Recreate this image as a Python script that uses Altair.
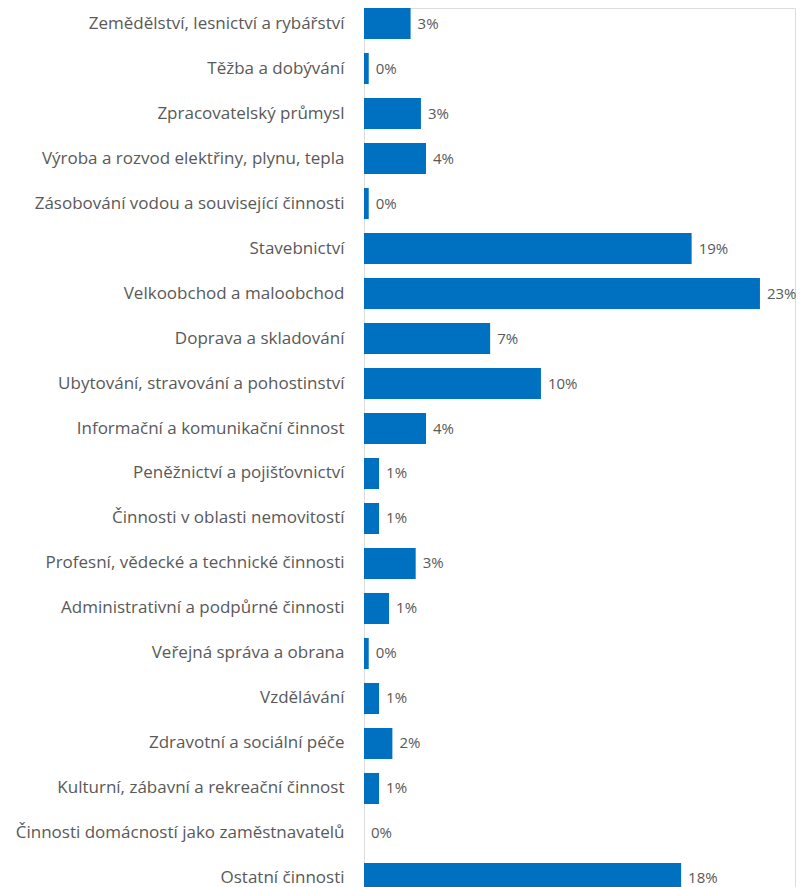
import altair as alt
import pandas as pd

categories = [
    "Zemědělství, lesnictví a rybářství",
    "Těžba a dobývání",
    "Zpracovatelský průmysl",
    "Výroba a rozvod elektřiny, plynu, tepla",
    "Zásobování vodou a související činnosti",
    "Stavebnictví",
    "Velkoobchod a maloobchod",
    "Doprava a skladování",
    "Ubytování, stravování a pohostinství",
    "Informační a komunikační činnost",
    "Peněžnictví a pojišťovnictví",
    "Činnosti v oblasti nemovitostí",
    "Profesní, vědecké a technické činnosti",
    "Administrativní a podpůrné činnosti",
    "Veřejná správa a obrana",
    "Vzdělávání",
    "Zdravotní a sociální péče",
    "Kulturní, zábavní a rekreační činnost",
    "Činnosti domácností jako zaměstnavatelů",
    "Ostatní činnosti",
]
shares = [
    0.0266, 0.0027, 0.0325, 0.0354, 0.0027, 0.187, 0.226, 0.072, 0.101, 0.0354,
    0.0086, 0.0086, 0.0295, 0.0143, 0.0027, 0.0086, 0.0162, 0.0086, 0.0, 0.181,
]

df = pd.DataFrame({"kategorie": categories, "podil": shares})

FONT = "Open Sans"
TXT = "#595959"
y_enc = alt.Y(
    "kategorie:N",
    sort=categories,
    title=None,
    scale=alt.Scale(paddingInner=0.31, paddingOuter=0),
    axis=alt.Axis(
        ticks=False, domain=False, labelPadding=20, labelLimit=400,
        labelFont=FONT, labelFontSize=17, labelColor=TXT,
    ),
)
x_enc = alt.X(
    "podil:Q",
    title=None,
    scale=alt.Scale(domain=[0, 0.246], nice=False, zero=True),
    axis=None,
)

bars = alt.Chart(df).mark_bar(color="#0070C0").encode(y=y_enc, x=x_enc)
labels = alt.Chart(df).mark_text(
    align="left", baseline="middle", dx=7, font=FONT, fontSize=15, color=TXT
).encode(y=y_enc, x=x_enc, text=alt.Text("podil:Q", format=".0%"))

chart = (
    alt.layer(bars, labels)
    .properties(
        width=431,
        height=886,
        autosize=alt.AutoSizeParams(type="none"),
        padding={"left": 356, "top": 0, "right": 2, "bottom": 0},
    )
    .configure_view(stroke=None)
    .configure(background="white")
)

chart.save("out.html", embed_options={"renderer": "svg", "actions": False})
